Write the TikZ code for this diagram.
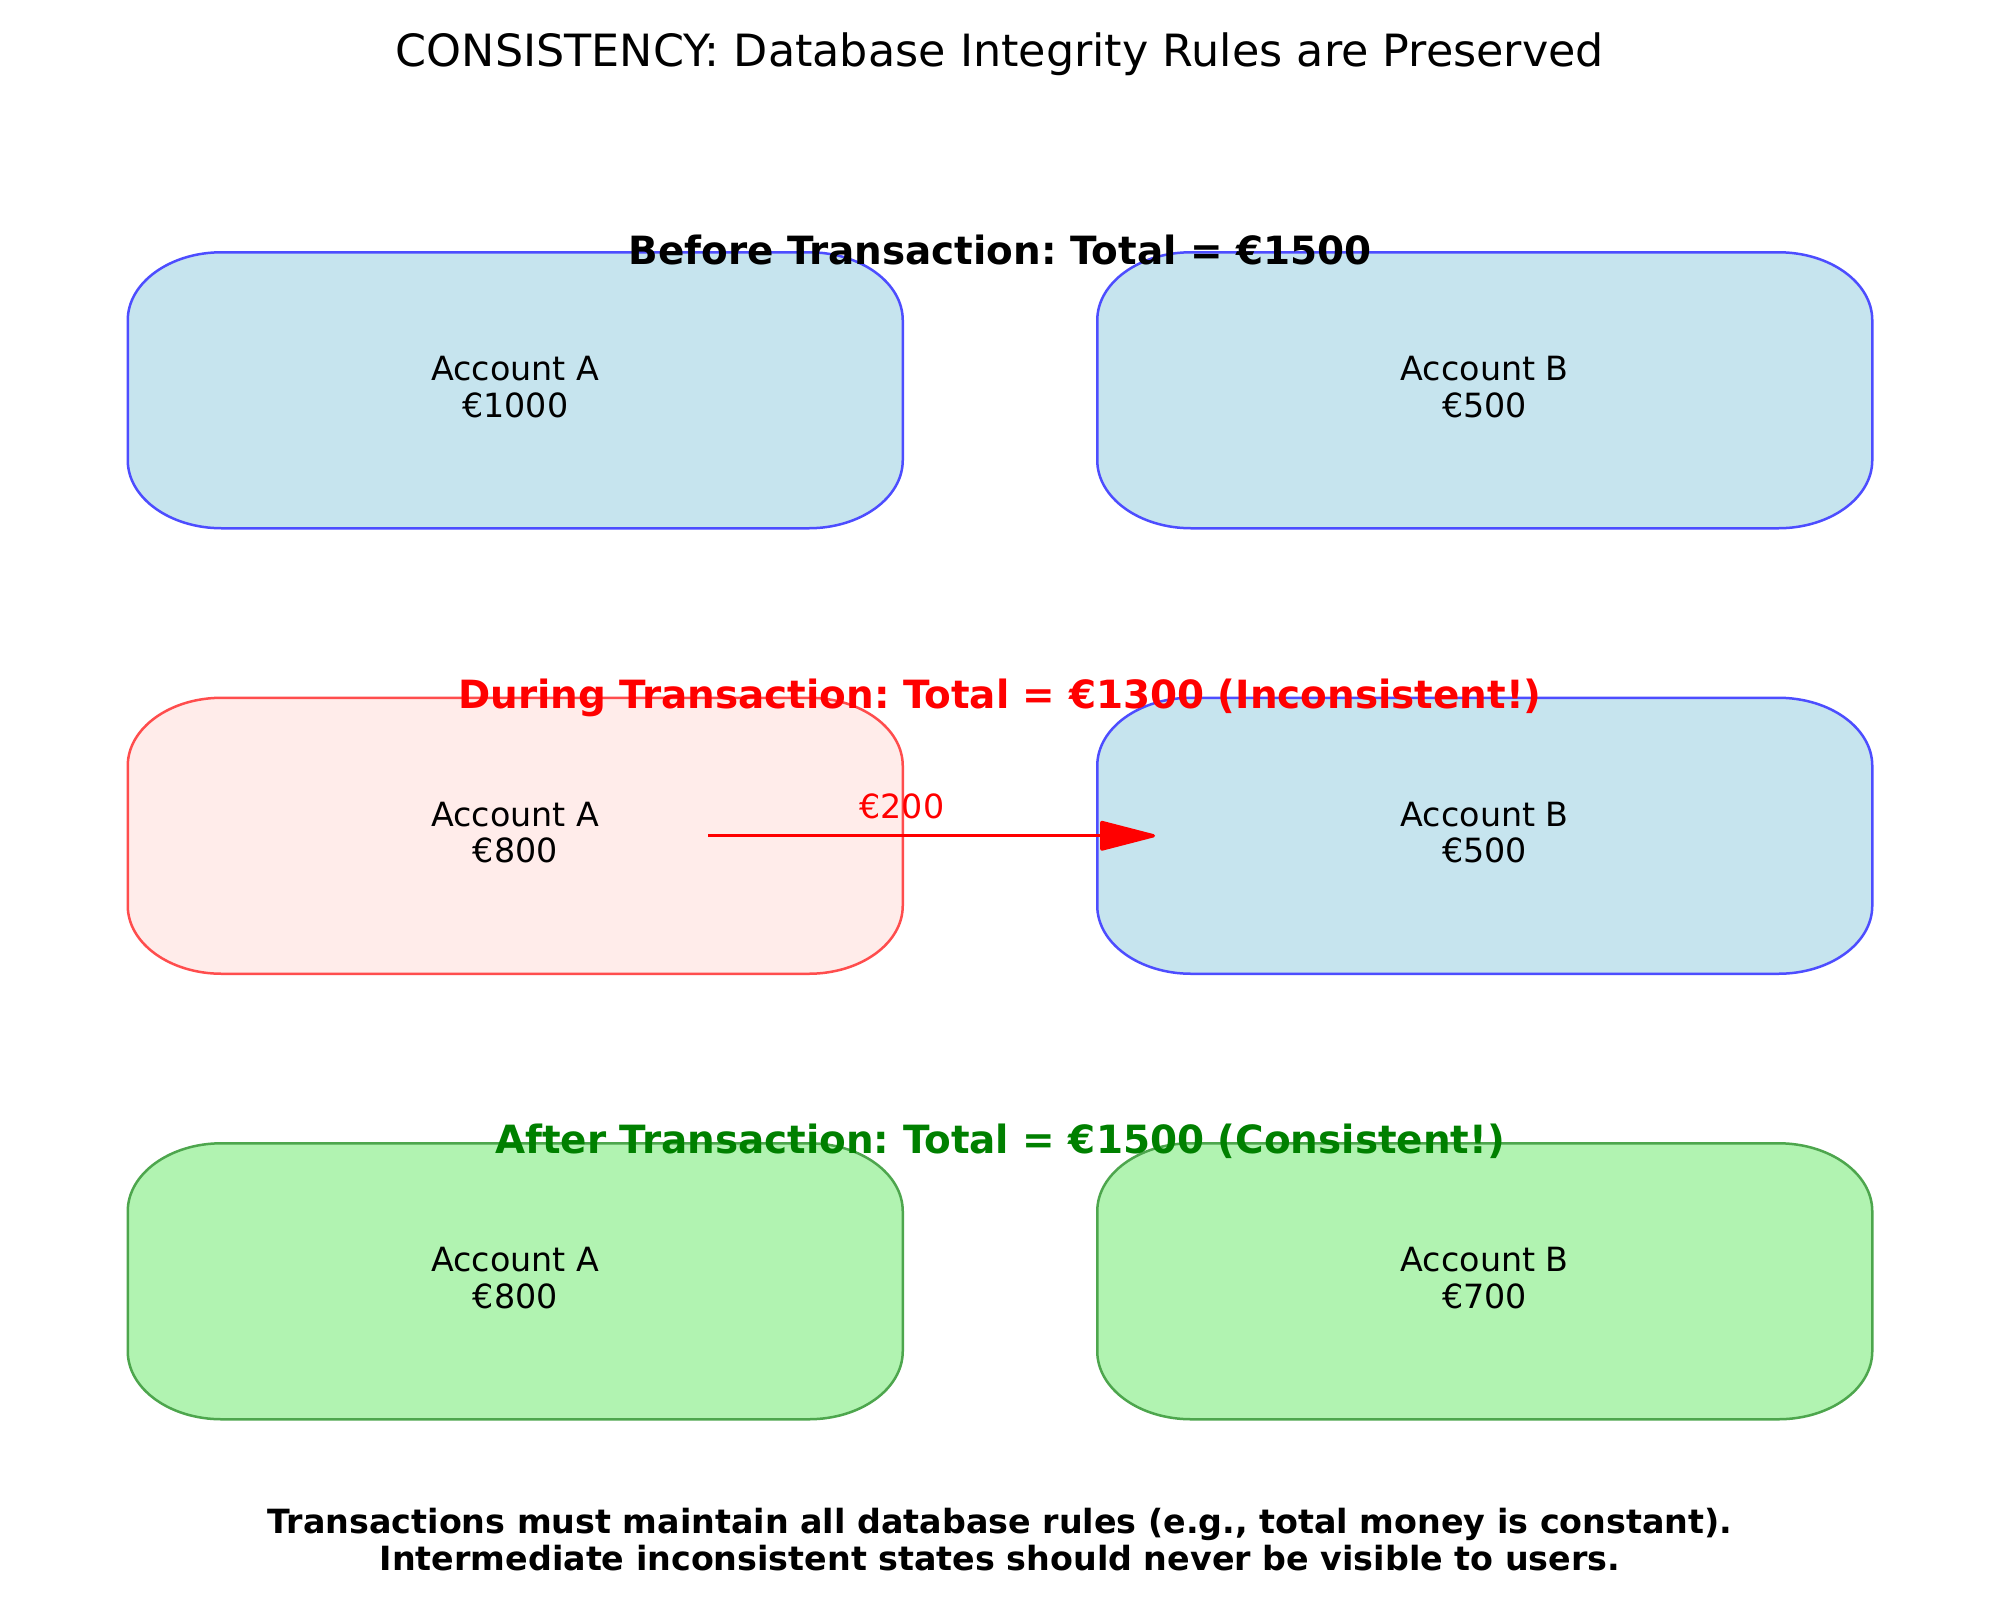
\documentclass[tikz,border=0pt]{standalone}
\usepackage{fontspec}
\setmainfont{DejaVu Sans}
\usetikzlibrary{arrows.meta}
\frenchspacing
\definecolor{bfill}{RGB}{198,228,238}
\definecolor{bline}{RGB}{77,77,255}
\definecolor{rfill}{RGB}{255,236,234}
\definecolor{rline}{RGB}{255,77,77}
\definecolor{gfill}{RGB}{177,243,177}
\definecolor{gline}{RGB}{77,166,77}
\definecolor{dgreen}{RGB}{0,128,0}
\newcommand\ellbox[2]{\path[#2]
  ([xshift=33.84pt]#1.north west) -- ([xshift=-33.84pt]#1.north east)
  arc[start angle=90,end angle=0,x radius=33.84pt,y radius=24.48pt]
  -- ([yshift=24.48pt]#1.south east)
  arc[start angle=0,end angle=-90,x radius=33.84pt,y radius=24.48pt]
  -- ([xshift=33.84pt]#1.south west)
  arc[start angle=-90,end angle=-180,x radius=33.84pt,y radius=24.48pt]
  -- ([yshift=-24.48pt]#1.north west)
  arc[start angle=180,end angle=90,x radius=33.84pt,y radius=24.48pt]
  -- cycle;}
\tikzset{
  acctframe/.style={shape=rectangle,minimum width=279pt,minimum height=99.36pt,inner sep=0pt,outer sep=0pt},
  bluebox/.style={fill=bfill,draw=bline,line width=0.9pt},
  redbox/.style={fill=rfill,draw=rline,line width=0.9pt},
  greenbox/.style={fill=gfill,draw=gline,line width=0.9pt},
  accttext/.style={align=center,inner sep=0pt,font=\fontsize{12}{13.18}\selectfont},
  lbl/.style={anchor=base,inner sep=0pt,font=\fontsize{14}{16.8}\selectfont\bfseries},
  transfer/.style={draw=red,line width=1.2pt,-{Triangle[length=21.6pt,width=10.8pt,round=false]}},
}
\begin{document}
\begin{tikzpicture}[x=0.36pt,y=-0.36pt]
\fill[white] (0,0) rectangle (2000,1600);
\useasboundingbox (0,0) rectangle (2000,1600);
% title
\node[anchor=base,inner sep=0pt,font=\fontsize{16}{19.2}\selectfont] (title) at (1000,66.5) {CONSISTENCY: Database Integrity Rules are Preserved};
% frames
\node[acctframe] (a1) at (515.25,390.25) {};
\node[acctframe] (b1) at (1484.75,390.25) {};
\node[acctframe] (a2) at (515.25,835.75) {};
\node[acctframe] (b2) at (1484.75,835.75) {};
\node[acctframe] (a3) at (515.25,1281.25) {};
\node[acctframe] (b3) at (1484.75,1281.25) {};
\ellbox{a1}{bluebox}
\ellbox{b1}{bluebox}
\ellbox{a2}{redbox}
\ellbox{b2}{bluebox}
\ellbox{a3}{greenbox}
\ellbox{b3}{greenbox}
% texts in boxes
\node[accttext] (a1t) at (515.25,387.1) {Account A\\€1000};
\node[accttext] (b1t) at (1484.75,387.1) {Account B\\€500};
\node[accttext] (a2t) at (515.25,832.6) {Account A\\€800};
\node[accttext] (b2t) at (1484.75,832.6) {Account B\\€500};
\node[accttext] (a3t) at (515.25,1278.1) {Account A\\€800};
\node[accttext] (b3t) at (1484.75,1278.1) {Account B\\€700};
% row labels
\node[lbl] (l1) at (1000,264.5) {Before Transaction: Total = €1500};
\node[lbl,text=red] (l2) at (1000,708.6) {During Transaction: Total = €1300 (Inconsistent!)};
\node[lbl,text=dgreen] (l3) at (1000,1153.6) {After Transaction: Total = €1500 (Consistent!)};
% transfer arrow
\coordinate (arrS) at (708,835.75);
\coordinate (arrE) at (1155,835.75);
\draw[transfer] (arrS) -- (arrE);
\node[anchor=base,inner sep=0pt,text=red,font=\fontsize{12}{14.4}\selectfont] (amt) at (902,818.3) {€200};
% footer
\node[align=center,inner sep=0pt,font=\fontsize{12}{13.32}\selectfont\bfseries] (foot) at (1000,1539.8) {Transactions must maintain all database rules (e.g., total money is constant).\\Intermediate inconsistent states should never be visible to users.};
\end{tikzpicture}
\end{document}
